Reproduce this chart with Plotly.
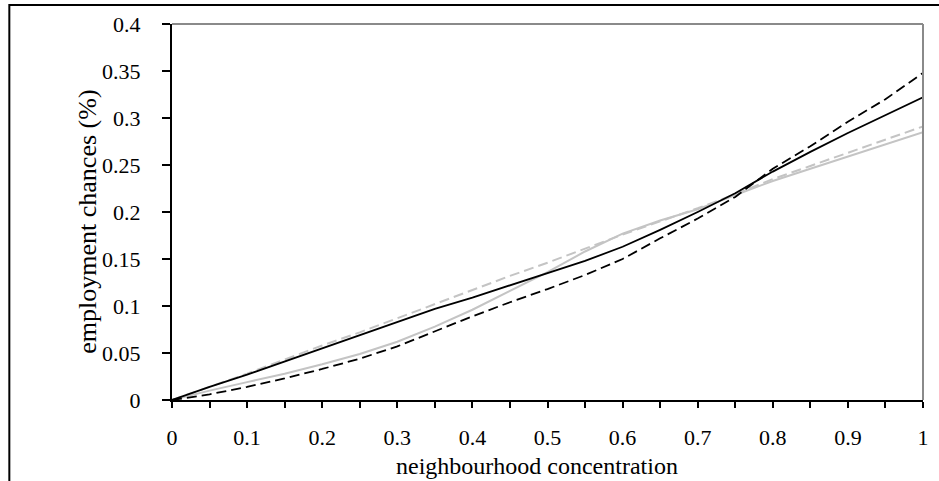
import plotly.graph_objects as go

# neighbourhood concentration (x)
x = [0, 0.05, 0.1, 0.15, 0.2, 0.25, 0.3, 0.35, 0.4, 0.45, 0.5,
     0.55, 0.6, 0.65, 0.7, 0.75, 0.8, 0.85, 0.9, 0.95, 1.0]

# employment chances (%) for four series
black_solid = [0, 0.014, 0.027, 0.041, 0.055, 0.069, 0.083, 0.097, 0.109, 0.122, 0.135,
               0.148, 0.163, 0.181, 0.200, 0.220, 0.243, 0.264, 0.284, 0.303, 0.322]
black_dashed = [0, 0.006, 0.014, 0.023, 0.033, 0.044, 0.057, 0.073, 0.089, 0.104, 0.118,
                0.133, 0.150, 0.172, 0.193, 0.216, 0.246, 0.270, 0.296, 0.320, 0.348]
gray_solid = [0, 0.010, 0.019, 0.028, 0.038, 0.049, 0.062, 0.078, 0.096, 0.116, 0.136,
              0.158, 0.177, 0.191, 0.203, 0.218, 0.233, 0.246, 0.259, 0.272, 0.285]
gray_dashed = [0, 0.014, 0.028, 0.043, 0.058, 0.072, 0.087, 0.102, 0.117, 0.132, 0.146,
               0.161, 0.176, 0.190, 0.204, 0.219, 0.235, 0.249, 0.263, 0.277, 0.291]

x_ticks = [0, 0.1, 0.2, 0.3, 0.4, 0.5, 0.6, 0.7, 0.8, 0.9, 1]
x_ticktext = ["0", "0.1", "0.2", "0.3", "0.4", "0.5", "0.6", "0.7", "0.8", "0.9", "1"]
y_ticks = [0, 0.05, 0.1, 0.15, 0.2, 0.25, 0.3, 0.35, 0.4]
y_ticktext = ["0", "0.05", "0.1", "0.15", "0.2", "0.25", "0.3", "0.35", "0.4"]

FONT = "Liberation Serif"
GRAY = "#c4c4c4"

fig = go.Figure()
fig.add_trace(go.Scatter(x=x, y=gray_solid, mode="lines",
                         line=dict(color=GRAY, width=2), name="gray solid"))
fig.add_trace(go.Scatter(x=x, y=gray_dashed, mode="lines",
                         line=dict(color=GRAY, width=2, dash="10px,5px"), name="gray dashed"))
fig.add_trace(go.Scatter(x=x, y=black_solid, mode="lines",
                         line=dict(color="black", width=1.8), name="black solid"))
fig.add_trace(go.Scatter(x=x, y=black_dashed, mode="lines",
                         line=dict(color="black", width=1.8, dash="10px,5px"), name="black dashed"))

fig.update_layout(
    width=939, height=481,
    margin=dict(l=172, r=10, t=24, b=81),
    paper_bgcolor="white", plot_bgcolor="white",
    showlegend=False,
    font=dict(family=FONT, color="black"),
    xaxis=dict(
        range=[0, 1], tickvals=x_ticks, ticktext=x_ticktext,
        showgrid=False, zeroline=False,
        showline=True, linecolor="black", linewidth=2,
        ticks="outside", ticklen=6, tickwidth=1.5, tickcolor="black",
        minor=dict(dtick=0.05, ticks="outside", ticklen=6, tickwidth=1.5, tickcolor="black", showgrid=False),
        tickfont=dict(family=FONT, size=22),
        ticklabelstandoff=11,
    ),
    yaxis=dict(
        range=[0, 0.4], tickvals=y_ticks, ticktext=y_ticktext,
        showgrid=False, zeroline=False,
        showline=True, linecolor="black", linewidth=2,
        ticks="outside", ticklen=8, tickwidth=1.5, tickcolor="black",
        tickfont=dict(family=FONT, size=22),
        ticklabelstandoff=17,
    ),
    annotations=[
        dict(text="neighbourhood concentration", xref="paper", yref="paper",
             x=(540 - 172) / 757, y=(400 - 466) / 376, xanchor="center", yanchor="middle",
             showarrow=False, font=dict(family=FONT, size=24)),
        dict(text="employment chances (%)", xref="paper", yref="paper",
             x=(86 - 172) / 757, y=(400 - 222) / 376, xanchor="center", yanchor="middle",
             textangle=-90, showarrow=False, font=dict(family=FONT, size=26)),
    ],
    shapes=[
        dict(type="line", xref="paper", yref="paper", x0=0, x1=1, y0=1, y1=1,
             line=dict(color="#8a8a8a", width=2)),
        dict(type="line", xref="paper", yref="paper", x0=1, x1=1, y0=0, y1=1,
             line=dict(color="#8a8a8a", width=2)),
        dict(type="rect", xref="paper", yref="paper", x0=-0.2166, x1=1.2, y0=-0.5, y1=1.0505,
             line=dict(color="black", width=2), fillcolor="rgba(0,0,0,0)"),
    ],
)

fig.write_html("out.html")
